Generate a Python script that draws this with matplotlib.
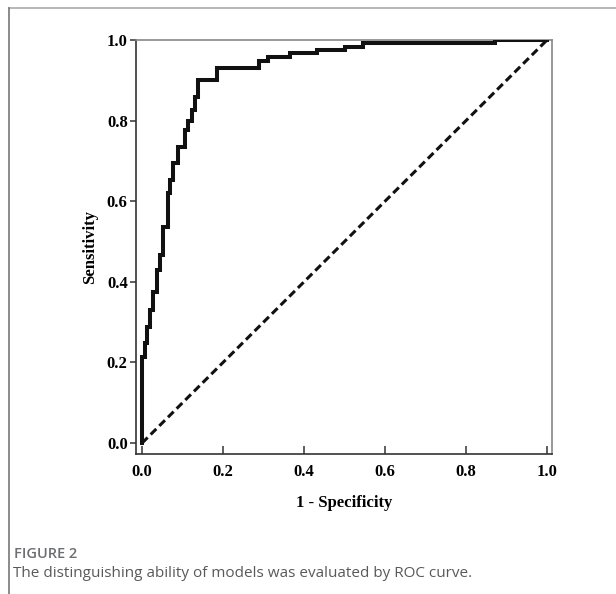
import matplotlib
matplotlib.use("Agg")
import matplotlib.pyplot as plt
from matplotlib.lines import Line2D

# ROC curve corner points (1 - specificity, sensitivity)
fpr = [0.0, 0.0, 0.007, 0.012, 0.020, 0.028, 0.036, 0.044, 0.053, 0.063, 0.063,
       0.069, 0.077, 0.090, 0.106, 0.114, 0.123, 0.131, 0.139, 0.186, 0.289,
       0.310, 0.365, 0.431, 0.501, 0.546, 0.872, 1.0]
tpr = [0.0, 0.213, 0.248, 0.289, 0.330, 0.375, 0.430, 0.466, 0.537, 0.546, 0.620,
       0.653, 0.694, 0.735, 0.777, 0.800, 0.826, 0.859, 0.902, 0.930, 0.949,
       0.958, 0.967, 0.975, 0.983, 0.993, 1.0, 1.0]
ref_line = [0.0, 1.0]
ticks = [0.0, 0.2, 0.4, 0.6, 0.8, 1.0]
tick_labels = ["0.0", "0.2", "0.4", "0.6", "0.8", "1.0"]

W, H = 616, 594
fig = plt.figure(figsize=(W / 100, H / 100), dpi=100)
fig.patch.set_facecolor("white")

ax = fig.add_axes([136 / W, 1 - 454 / H, (552 - 136) / W, (454 - 40) / H])
ax.plot(fpr, tpr, drawstyle="steps-post", color="#111111", lw=2.9,
        solid_joinstyle="miter", zorder=3)
ax.plot(ref_line, ref_line, color="#111111", lw=2.2, linestyle=(0, (2.6, 1.4)),
        zorder=2)

ax.set_xlim(-0.0148, 1.0123)
ax.set_ylim(-0.027, 1.0)

serif = ["Liberation Serif", "DejaVu Serif"]
ax.set_xticks(ticks)
ax.set_yticks(ticks)
ax.set_xticklabels(tick_labels, family=serif, fontweight="bold", fontsize=12)
ax.set_yticklabels(tick_labels, family=serif, fontweight="bold", fontsize=12)
ax.tick_params(axis="x", direction="in", length=6, width=1.1, pad=7, color="#333333")
ax.tick_params(axis="y", direction="out", length=4, width=1.1, pad=2, color="#333333")

for side in ["left", "bottom"]:
    ax.spines[side].set_color("#333333")
    ax.spines[side].set_linewidth(1.2)
for side in ["top", "right"]:
    ax.spines[side].set_color("#888888")
    ax.spines[side].set_linewidth(1.2)

ax.set_xlabel("1 - Specificity", family=serif, fontweight="bold", fontsize=12,
              labelpad=11)
ax.set_ylabel("Sensitivity", family=serif, fontweight="bold", fontsize=12,
              labelpad=6)

# outer panel border
fig.add_artist(Line2D([9 / W, 1.0], [1 - 8 / H, 1 - 8 / H], color="#aaaaaa", lw=1.2))
fig.add_artist(Line2D([9 / W, 9 / W], [0.0, 1 - 8 / H], color="#777777", lw=1.2))

# caption
sans = ["Open Sans", "DejaVu Sans"]
fig.text(14 / W, 1 - 558 / H, "FIGURE 2", family=sans, fontsize=10.5,
         fontweight="semibold", color="#6d6e71", va="baseline")
fig.text(13 / W, 1 - 577 / H,
         "The distinguishing ability of models was evaluated by ROC curve.",
         family=sans, fontsize=11, color="#58595b", va="baseline")

fig.savefig("out.png", dpi=100)
